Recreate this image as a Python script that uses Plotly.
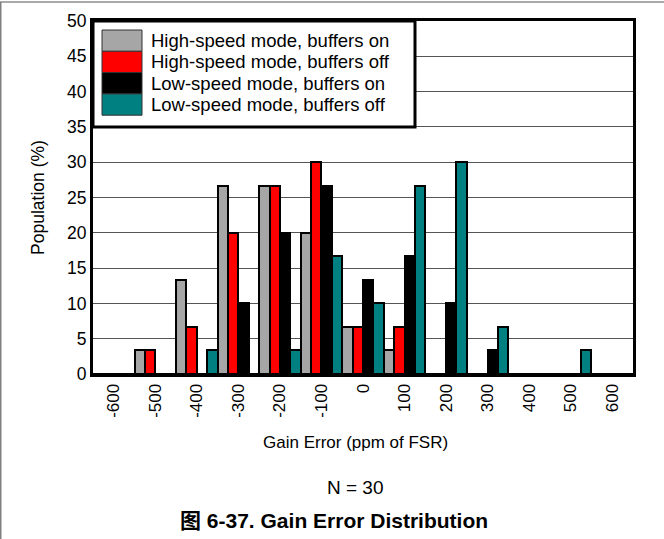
import plotly.graph_objects as go

# Gain error bins (ppm of FSR) and population per mode (%), N = 30 units
bins = ["-600", "-500", "-400", "-300", "-200", "-100", "0",
        "100", "200", "300", "400", "500", "600"]
hs_buf_on = [0, 3.33, 13.33, 26.67, 26.67, 20, 6.67, 3.33, 0, 0, 0, 0, 0]
hs_buf_off = [0, 3.33, 6.67, 20, 26.67, 30, 6.67, 6.67, 0, 0, 0, 0, 0]
ls_buf_on = [0, 0, 0, 10, 20, 26.67, 13.33, 16.67, 10, 3.33, 0, 0, 0]
ls_buf_off = [0, 0, 3.33, 0, 3.33, 16.67, 10, 26.67, 30, 6.67, 0, 3.33, 0]

series_names = ["High-speed mode, buffers on", "High-speed mode, buffers off",
                "Low-speed mode, buffers on", "Low-speed mode, buffers off"]
series_vals = [hs_buf_on, hs_buf_off, ls_buf_on, ls_buf_off]
series_colors = ["#A6A6A6", "#FF0000", "#000000", "#008080"]

FONT = "Liberation Sans, Arial, Noto Sans CJK SC, sans-serif"

W, H = 664, 539
L, R, T, B = 93, 31, 21, 165
PW, PH = W - L - R, H - T - B


def px(x):
    return (x - L) / PW


def py(y):
    return (H - B - y) / PH


fig = go.Figure()
for name, vals, col in zip(series_names, series_vals, series_colors):
    fig.add_trace(go.Bar(
        x=bins, y=vals, name=name,
        marker=dict(color=col, line=dict(color="#000000", width=2)),
        showlegend=False,
    ))

shapes = []
# legend box
shapes.append(dict(type="rect", xref="paper", yref="y", x0=0, x1=px(415), y0=35, y1=50,
                   fillcolor="white", line=dict(color="black", width=3), layer="above"))
annotations = []
row_top = 30
row_h = 21.3
for i, (name, col) in enumerate(zip(series_names, series_colors)):
    y0 = row_top + i * row_h
    y1 = y0 + row_h
    shapes.append(dict(type="rect", xref="paper", yref="paper",
                       x0=px(102), x1=px(142), y0=py(y1), y1=py(y0),
                       fillcolor=col, line=dict(color="#333333", width=1), layer="above"))
    annotations.append(dict(xref="paper", yref="paper", x=px(149), y=py((y0 + y1) / 2),
                            text=name, showarrow=False, xanchor="left", yanchor="middle",
                            font=dict(family=FONT, size=18.5, color="black")))

# page border lines
shapes.append(dict(type="line", xref="paper", yref="paper", x0=px(0), x1=px(W),
                   y0=py(2), y1=py(2), line=dict(color="#555555", width=1)))
shapes.append(dict(type="line", xref="paper", yref="paper", x0=px(0.5), x1=px(0.5),
                   y0=py(2), y1=py(H), line=dict(color="#808080", width=2)))

annotations += [
    dict(xref="paper", yref="paper", x=px(355), y=py(442), text="Gain Error (ppm of FSR)",
         showarrow=False, xanchor="center", yanchor="middle",
         font=dict(family=FONT, size=17, color="black")),
    dict(xref="paper", yref="paper", x=px(355), y=py(487), text="N = 30",
         showarrow=False, xanchor="center", yanchor="middle",
         font=dict(family=FONT, size=19, color="black")),
    dict(xref="paper", yref="paper", x=px(334), y=py(520),
         text="<b>图 6-37. Gain Error Distribution</b>",
         showarrow=False, xanchor="center", yanchor="middle",
         font=dict(family=FONT, size=21, color="black")),
]

fig.update_layout(
    width=W, height=H,
    margin=dict(l=L, r=R, t=T, b=B),
    paper_bgcolor="white", plot_bgcolor="white",
    barmode="group", bargap=0, bargroupgap=0,
    font=dict(family=FONT, size=17, color="black"),
    shapes=shapes, annotations=annotations,
    xaxis=dict(type="category", showline=True, mirror=True, linewidth=3, linecolor="black",
               ticks="", tickangle=-90, tickfont=dict(size=17), showgrid=False),
    yaxis=dict(range=[0, 50], dtick=5, showline=True, mirror=True, linewidth=3,
               linecolor="black", showgrid=True, gridcolor="#555555", gridwidth=1,
               ticks="", tickfont=dict(size=17.5), zeroline=False,
               title=dict(text="Population (%)", font=dict(size=17.5), standoff=18)),
)

fig.write_html("out.html")
